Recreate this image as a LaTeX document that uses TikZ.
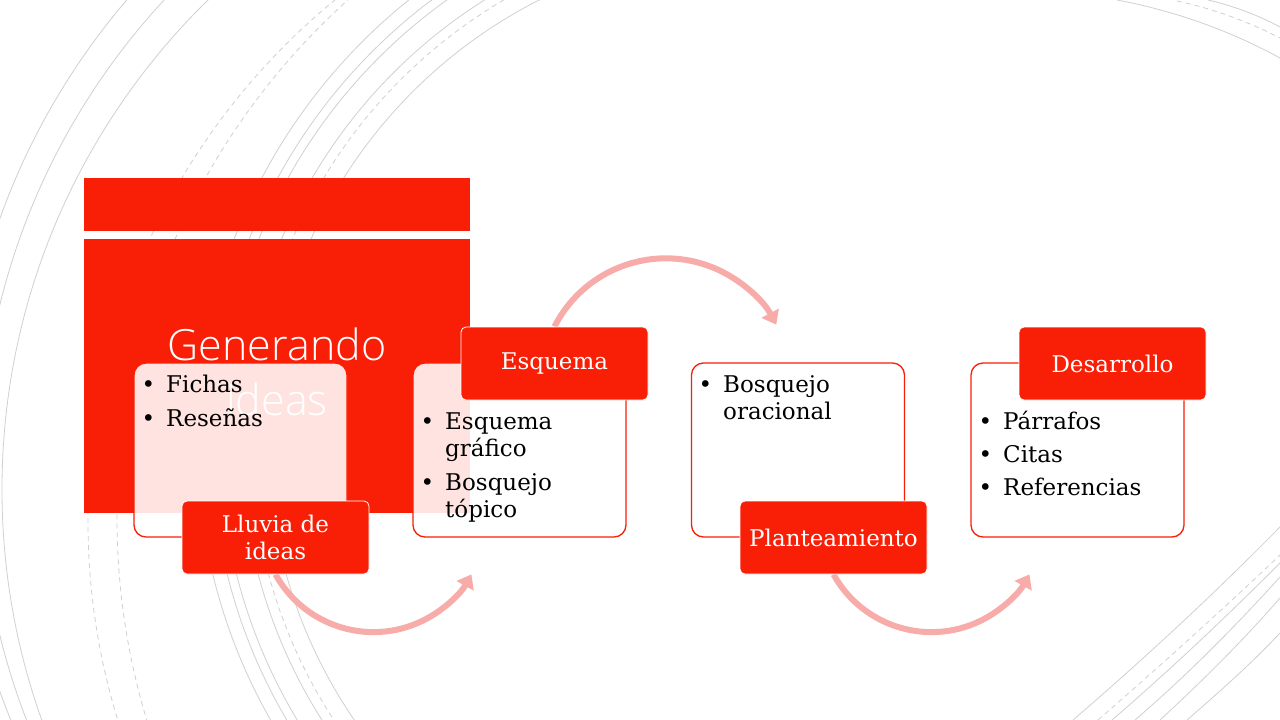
\documentclass[tikz,border=0pt]{standalone}
\usepackage{fontspec}
\setmainfont{DejaVu Serif}
\newfontfamily\titlefont{Open Sans Light}
\usetikzlibrary{arrows.meta}
\definecolor{brand}{RGB}{249,30,6}
\definecolor{arrowpink}{RGB}{248,172,170}
\definecolor{bgline}{RGB}{208,208,208}
\newcommand{\bul}{\makebox[0pt][r]{\textbullet\hspace{11pt}}}
\pgfdeclarelayer{back}
\pgfdeclarelayer{mid}
\pgfsetlayers{back,mid,main}
\begin{document}
\begin{tikzpicture}[x=1pt,y=-1pt,
  bgl/.style={draw=bgline, line width=0.8pt},
  bgd/.style={draw=bgline, line width=0.8pt, dash pattern=on 5pt off 4pt},
  redblock/.style={fill=brand, draw=none, inner sep=0, minimum width=386pt},
  cbox/.style={draw=brand, line width=1.3pt, fill=white, fill opacity=0.88, rounded corners=12pt, minimum width=213pt, minimum height=174pt, inner sep=0},
  lab/.style={fill=brand, draw=white, line width=0.8pt, rounded corners=5pt, minimum width=187pt, minimum height=73pt, text=white, align=center, font=\fontsize{23}{27}\selectfont, inner sep=0},
  itm/.style={anchor=base west, inner sep=0, font=\fontsize{23}{27}\selectfont, text=black},
  ttl/.style={anchor=base, inner sep=0, text=white, font=\titlefont\fontsize{43}{53}\selectfont},
  flow/.style={draw=arrowpink, line width=6pt, -{Triangle[length=13pt,width=19pt]}}
]
\useasboundingbox (0,0) rectangle (1280,720);
\begin{pgfonlayer}{back}
\fill[white] (0,0) rectangle (1280,720);
\begin{scope}
\clip (0,0) rectangle (720,720);
\draw[bgl] (660,455) circle[radius=701];
\draw[bgl] (672,470) circle[radius=692];
\draw[bgl] (686.6,489.5) circle[radius=684.6];
\draw[bgd] (761.7,521.3) circle[radius=673.7];
\draw[bgd] (813.5,518) circle[radius=696.5];
\foreach \r in {565,551,542,521,494} \draw[bgl] (762,441) circle[radius=\r];
\draw[bgd] (762,441) circle[radius=511];
\end{scope}
\draw[bgl] (1117,0) .. controls (1170,10) and (1225,28) .. (1280,58);
\draw[bgd] (1177,1) .. controls (1210,8) and (1245,20) .. (1280,38);
\draw[bgl] (1208,0) .. controls (1230,5) and (1256,14) .. (1280,27);
\draw[bgl] (1073,720) .. controls (1145,658) and (1212,596) .. (1280,527);
\draw[bgd] (1098,720) .. controls (1160,666) and (1220,612) .. (1280,555);
\draw[bgl] (1112,720) .. controls (1170,670) and (1225,618) .. (1280,563);
\draw[bgl] (1135,720) .. controls (1185,677) and (1232,630) .. (1280,577);
\draw[bgl] (1160,720) .. controls (1200,683) and (1240,644) .. (1280,598);
\draw[bgl] (1187,720) .. controls (1218,693) and (1250,665) .. (1280,633);
\end{pgfonlayer}
% title block
\node[redblock, minimum height=53pt] (bar) at (277,204.5) {};
\node[redblock, minimum height=274pt] (block) at (277,376) {};
\node[ttl] (t1) at (277,360) {Generando};
\node[ttl] (t2) at (277,415) {ideas};
% content boxes
\node[cbox] (box1) at (240.5,450) {};
\node[cbox] (box2) at (519.5,450) {};
\node[cbox] (box3) at (798,450) {};
\node[cbox] (box4) at (1077.5,450) {};
% labels
\node[lab] (lab1) at (275.5,537.5) {Lluvia de\\ideas};
\node[lab] (lab2) at (554.5,363.5) {Esquema};
\node[lab] (lab3) at (833.5,537.5) {Planteamiento};
\node[lab] (lab4) at (1112.5,363.5) {Desarrollo};
% arrows (beneath the labels)
\begin{pgfonlayer}{mid}
\draw[flow] (lab1.south) arc[start angle=151, end angle=29, radius=112];
\draw[flow] (lab2.north) arc[start angle=207, end angle=332, radius=125];
\draw[flow] (lab3.south) arc[start angle=151, end angle=29, radius=112];
\end{pgfonlayer}
% texts
\node[itm] (f1) at (166,392) {\bul Fichas};
\node[itm] (f2) at (166,426) {\bul Reseñas};
\node[itm] (e1) at (445,429) {\bul Esquema};
\node[itm] (e2) at (445,456) {gráfico};
\node[itm] (e3) at (445,490) {\bul Bosquejo};
\node[itm] (e4) at (445,517) {tópico};
\node[itm] (p1) at (723,392) {\bul Bosquejo};
\node[itm] (p2) at (723,419) {oracional};
\node[itm] (d1) at (1003,429) {\bul Párrafos};
\node[itm] (d2) at (1003,462) {\bul Citas};
\node[itm] (d3) at (1003,495) {\bul Referencias};
\end{tikzpicture}
\end{document}
